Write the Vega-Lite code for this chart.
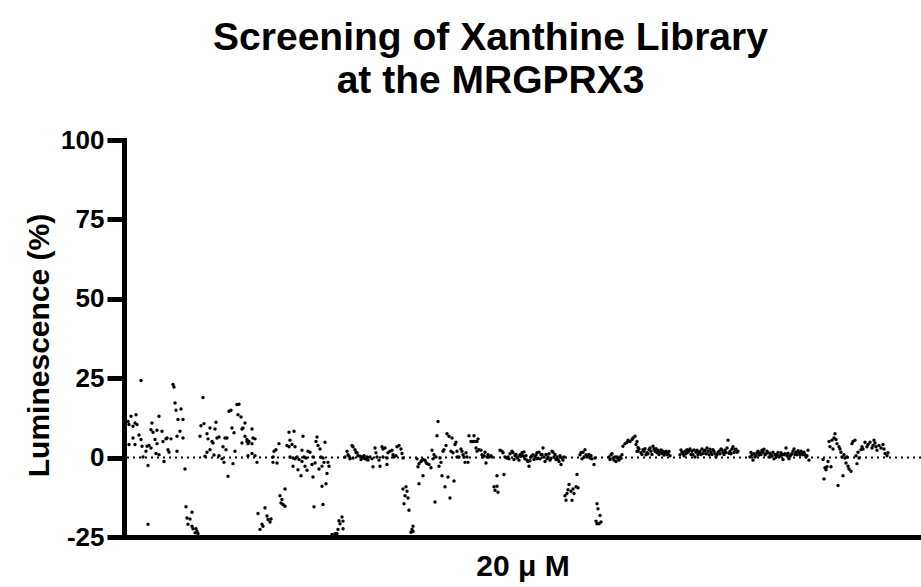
{
"$schema":"https://vega.github.io/schema/vega-lite/v6.json",
"width":797,"height":397,
"autosize":{"type":"none"},
"padding":{"left":124,"top":140,"right":0,"bottom":50},
"background":"white",
"title":{"text":["Screening of Xanthine Library","at the MRGPRX3"],"font":"Liberation Sans","fontSize":39,"fontWeight":"bold","color":"black","anchor":"middle","lineHeight":43,"offset":26,"dx":-32},
"config":{"view":{"stroke":null},"font":"Liberation Sans"},
"datasets":{"pts":[
{"c":4,"v":11.4},{"c":7,"v":13},{"c":12,"v":13.5},{"c":5,"v":10.4},{"c":9,"v":9.9},{"c":11,"v":10.9},{"c":13,"v":10.4},{"c":15,"v":7.1},{"c":9,"v":6.2},{"c":5,"v":4.1},{"c":11,"v":4.1},{"c":17,"v":5.7},{"c":18,"v":3.6},{"c":19,"v":0.2},{"c":22,"v":2},{"c":23,"v":3.6},{"c":25,"v":3.8},{"c":27,"v":3},{"c":24,"v":-2.5},{"c":17,"v":24.3},{"c":28,"v":10.9},{"c":27,"v":8.8},{"c":29,"v":8},{"c":31,"v":5.7},{"c":33,"v":8.6},{"c":35,"v":13},{"c":38,"v":8.3},{"c":33,"v":4.4},{"c":32,"v":1.3},{"c":35,"v":0.9},{"c":40,"v":-1.2},{"c":39,"v":5.1},{"c":42,"v":5.9},{"c":43,"v":6.2},{"c":44,"v":2.5},{"c":45,"v":1.7},{"c":47,"v":5.9},{"c":49,"v":23},{"c":50,"v":22.2},{"c":51,"v":17.2},{"c":52,"v":14.9},{"c":57,"v":15.3},{"c":54,"v":12},{"c":59,"v":12},{"c":56,"v":8.3},{"c":53,"v":6.7},{"c":59,"v":6.2},{"c":53,"v":2},{"c":61,"v":-3.6},{"c":24,"v":-21},{"c":62,"v":-15.5},{"c":68,"v":-17.2},{"c":63,"v":-19},{"c":66,"v":-19.3},{"c":64,"v":-21},{"c":68,"v":-21.6},{"c":69,"v":-22.4},{"c":72,"v":-22.4},{"c":73,"v":-23.2},{"c":71,"v":-23.7},{"c":74,"v":-23.9},{"c":79,"v":18.9},{"c":77,"v":10},{"c":80,"v":10.7},{"c":76,"v":6.7},{"c":83,"v":7.5},{"c":84,"v":5.9},{"c":86,"v":9.3},{"c":88,"v":5.1},{"c":89,"v":4.6},{"c":91,"v":9},{"c":92,"v":11.1},{"c":93,"v":6.2},{"c":95,"v":6.5},{"c":86,"v":2.5},{"c":83,"v":1.7},{"c":81,"v":0.4},{"c":90,"v":0.8},{"c":95,"v":0.6},{"c":98,"v":-0.4},{"c":99,"v":3.4},{"c":101,"v":6.2},{"c":103,"v":6.2},{"c":102,"v":2.5},{"c":100,"v":-1.5},{"c":104,"v":-5.9},{"c":105,"v":14.6},{"c":107,"v":14.9},{"c":108,"v":9.3},{"c":110,"v":7.8},{"c":111,"v":2},{"c":109,"v":-1.9},{"c":113,"v":16.7},{"c":115,"v":16.8},{"c":114,"v":13.5},{"c":117,"v":12.8},{"c":118,"v":9},{"c":119,"v":9.3},{"c":121,"v":10.9},{"c":121,"v":6.7},{"c":123,"v":5.1},{"c":124,"v":4.4},{"c":118,"v":4.6},
{"c":128,"v":9},{"c":123,"v":5.7},{"c":125,"v":5.1},{"c":129,"v":6.2},{"c":131,"v":5.9},{"c":128,"v":4.4},{"c":124,"v":0.6},{"c":128,"v":1.3},{"c":131,"v":0.6},{"c":133,"v":-1.5},{"c":134,"v":-17.6},{"c":141,"v":-15.8},{"c":138,"v":-21},{"c":139,"v":-21.6},{"c":136,"v":-22.6},{"c":143,"v":-18.4},{"c":144,"v":-19.5},{"c":147,"v":-19.3},{"c":146,"v":-20.3},{"c":149,"v":0.2},{"c":150,"v":2},{"c":152,"v":2.5},{"c":149,"v":-1.5},{"c":153,"v":-1.7},{"c":155,"v":4.4},{"c":156,"v":-12},{"c":158,"v":-13.2},{"c":157,"v":-14.3},{"c":159,"v":-14.8},{"c":161,"v":-15.3},{"c":161,"v":-9.9},{"c":165,"v":8},{"c":166,"v":5.5},{"c":170,"v":8.3},{"c":163,"v":3.8},{"c":165,"v":3.4},{"c":168,"v":4.1},{"c":171,"v":3.4},{"c":166,"v":0.2},{"c":169,"v":-0.1},{"c":171,"v":-0.4},{"c":173,"v":0.2},{"c":175,"v":-0.6},{"c":169,"v":-2.7},{"c":174,"v":-3.8},{"c":177,"v":-5.7},{"c":178,"v":2.3},{"c":179,"v":6.7},{"c":178,"v":-1.2},{"c":180,"v":0.2},{"c":182,"v":-0.1},{"c":181,"v":-2.7},{"c":184,"v":2},{"c":186,"v":1.7},{"c":188,"v":-2.2},{"c":183,"v":-4},{"c":189,"v":-6.1},{"c":189,"v":0.2},{"c":191,"v":-1.7},{"c":192,"v":5.1},{"c":193,"v":6.5},{"c":194,"v":3.8},{"c":196,"v":2.7},{"c":197,"v":0.2},{"c":195,"v":-3.6},{"c":198,"v":-2.7},{"c":199,"v":-0.1},{"c":201,"v":4.8},{"c":200,"v":-1.5},{"c":198,"v":-9},{"c":202,"v":-8.2},{"c":203,"v":-5},{"c":204,"v":-1.5},{"c":205,"v":-2.7},{"c":190,"v":-15.5},{"c":199,"v":-14.8},{"c":208,"v":-24.2},{"c":211,"v":-24},{"c":213,"v":-23.9},{"c":214,"v":-22.6},{"c":216,"v":-20.8},{"c":218,"v":-18.7},{"c":219,"v":-20},{"c":219,"v":-22.4},{"c":215,"v":-19.9},{"c":221,"v":0.2},{"c":223,"v":2},{"c":224,"v":0.9},{"c":226,"v":-0.4},{"c":228,"v":3.8},{"c":229,"v":3.4},{"c":231,"v":2.5},{"c":232,"v":1.7},{"c":233,"v":1.5},{"c":234,"v":0.6},{"c":236,"v":0.4},{"c":238,"v":0.2},{"c":239,"v":-0.1},{"c":241,"v":-0.4},{"c":243,"v":-0.6},{"c":244,"v":-0.8},{"c":246,"v":0.2},{"c":249,"v":-2.9},{"c":251,"v":3},{"c":252,"v":1.5},{"c":253,"v":0.2},{"c":255,"v":-0.8},{"c":225,"v":0.4},{"c":229,"v":-0.1},{"c":237,"v":-0.6},{"c":240,"v":0.6},{"c":243,"v":0.2},{"c":248,"v":-0.4},
{"c":256,"v":-2.7},{"c":258,"v":3.4},{"c":259,"v":2.7},{"c":261,"v":3},{"c":263,"v":-0.1},{"c":263,"v":-2.2},{"c":264,"v":1.5},{"c":266,"v":2},{"c":268,"v":2.3},{"c":269,"v":0.9},{"c":270,"v":0.2},{"c":272,"v":0.6},{"c":273,"v":3.4},{"c":275,"v":3.8},{"c":277,"v":2.7},{"c":278,"v":1.3},{"c":279,"v":-0.1},{"c":259,"v":0.2},{"c":279,"v":-9.9},{"c":282,"v":-9.2},{"c":283,"v":-10.6},{"c":281,"v":-12},{"c":284,"v":-12.7},{"c":280,"v":-14.5},{"c":285,"v":-16.6},{"c":288,"v":-22.6},{"c":289,"v":-21.6},{"c":287,"v":-23.5},{"c":289,"v":-23.3},{"c":293,"v":-0.4},{"c":294,"v":-2.9},{"c":295,"v":-1.9},{"c":297,"v":-1.2},{"c":298,"v":-0.8},{"c":299,"v":-0.6},{"c":301,"v":-0.8},{"c":302,"v":-1.5},{"c":303,"v":-1.9},{"c":305,"v":-2.2},{"c":307,"v":-3.2},{"c":295,"v":-8.2},{"c":299,"v":-5.7},{"c":308,"v":2.3},{"c":309,"v":-0.4},{"c":310,"v":0.9},{"c":311,"v":-14},{"c":312,"v":0.2},{"c":313,"v":6.9},{"c":314,"v":11.4},{"c":315,"v":-2.7},{"c":316,"v":-0.1},{"c":317,"v":-1.5},{"c":318,"v":-5.7},{"c":319,"v":2},{"c":320,"v":2.5},{"c":321,"v":-9.2},{"c":322,"v":3.8},{"c":323,"v":7.5},{"c":324,"v":-6.1},{"c":325,"v":6.7},{"c":326,"v":-12.7},{"c":328,"v":6.2},{"c":327,"v":2},{"c":329,"v":1.5},{"c":330,"v":-7.4},{"c":331,"v":4.1},{"c":332,"v":4.8},{"c":333,"v":0.2},{"c":333,"v":2},{"c":335,"v":0.2},{"c":337,"v":2.7},{"c":338,"v":2},{"c":339,"v":0.9},{"c":340,"v":0.2},{"c":341,"v":-1.5},{"c":342,"v":1.5},{"c":343,"v":0.2},{"c":344,"v":-1.5},{"c":345,"v":6.9},{"c":347,"v":5.1},{"c":348,"v":5.1},{"c":349,"v":5.1},{"c":350,"v":6.9},{"c":351,"v":5.1},{"c":353,"v":5.1},{"c":352,"v":3},{"c":353,"v":2},{"c":354,"v":5.9},{"c":355,"v":2.5},{"c":357,"v":2.3},{"c":358,"v":0.9},{"c":359,"v":0.2},{"c":360,"v":0.6},{"c":361,"v":1.7},{"c":362,"v":-1.7},{"c":363,"v":0.2},{"c":364,"v":0.9},{"c":365,"v":0.2},{"c":367,"v":0.6},{"c":368,"v":0.2},{"c":370,"v":-9.2},{"c":371,"v":-10.3},{"c":373,"v":-9},{"c":373,"v":-5.7},{"c":374,"v":-10.9},{"c":376,"v":2.3},{"c":378,"v":2},{"c":379,"v":1.5},{"c":380,"v":-5.3},{"c":381,"v":0.2},{"c":383,"v":-0.1},{"c":384,"v":0.2},
{"c":385,"v":-0.4},{"c":388,"v":2},{"c":389,"v":1.5},{"c":391,"v":0.6},{"c":393,"v":-0.1},{"c":394,"v":0.2},{"c":396,"v":0.9},{"c":398,"v":1.5},{"c":399,"v":0.6},{"c":401,"v":-0.4},{"c":403,"v":-0.8},{"c":404,"v":-1.2},{"c":405,"v":-2.7},{"c":407,"v":0.2},{"c":408,"v":0.6},{"c":409,"v":0.9},{"c":411,"v":0.2},{"c":413,"v":-0.4},{"c":413,"v":1.5},{"c":415,"v":1.7},{"c":417,"v":0.9},{"c":419,"v":3},{"c":420,"v":0.2},{"c":421,"v":-1.2},{"c":423,"v":-0.4},{"c":424,"v":0.2},{"c":426,"v":-0.8},{"c":428,"v":2},{"c":429,"v":1.7},{"c":430,"v":0.2},{"c":432,"v":-0.6},{"c":433,"v":0.2},{"c":435,"v":-1.2},{"c":437,"v":-2.2},{"c":438,"v":-0.1},{"c":440,"v":0.2},{"c":441,"v":-12},{"c":442,"v":-13.4},{"c":443,"v":-11.3},{"c":444,"v":-10.1},{"c":445,"v":-8.5},{"c":447,"v":-10.6},{"c":449,"v":-9.9},{"c":450,"v":-11.3},{"c":452,"v":-9.2},{"c":454,"v":-9.5},{"c":448,"v":-13.4},{"c":453,"v":-5.3},{"c":456,"v":0.9},{"c":459,"v":1.7},{"c":460,"v":0.2},{"c":461,"v":2.5},{"c":462,"v":0.9},{"c":463,"v":0.2},{"c":464,"v":0.6},{"c":466,"v":-0.1},{"c":468,"v":-0.4},{"c":470,"v":-2.2},{"c":471,"v":-0.1},{"c":473,"v":-14.5},{"c":474,"v":-16.1},{"c":476,"v":-18.2},{"c":472,"v":-20},{"c":473,"v":-20.8},{"c":475,"v":-20.8},{"c":477,"v":-20.3},{"c":485,"v":0.2},{"c":487,"v":0.9},{"c":489,"v":-0.1},{"c":490,"v":-0.8},{"c":491,"v":0.2},{"c":492,"v":-1.2},{"c":493,"v":0.2},{"c":494,"v":-0.4},{"c":496,"v":0.2},{"c":498,"v":0.9},{"c":499,"v":3.6},{"c":501,"v":4.4},{"c":503,"v":4.8},{"c":504,"v":5.5},{"c":506,"v":5.1},{"c":508,"v":5.7},{"c":509,"v":6.2},{"c":511,"v":6.7},{"c":513,"v":5.1},{"c":514,"v":2},
{"c":386,"v":1.2},{"c":390,"v":-0.6},{"c":392,"v":1.0},{"c":395,"v":-0.8},{"c":397,"v":0.4},{"c":400,"v":1.8},{"c":402,"v":0.6},{"c":406,"v":-1.0},{"c":410,"v":-0.6},{"c":412,"v":0.8},{"c":414,"v":-0.2},{"c":416,"v":-0.4},{"c":418,"v":1.0},{"c":422,"v":1.0},{"c":425,"v":1.2},{"c":427,"v":-0.2},{"c":431,"v":1.0},{"c":434,"v":-0.6},{"c":436,"v":0.6},{"c":439,"v":-0.8},{"c":457,"v":1.6},{"c":458,"v":-0.4},{"c":465,"v":1.0},{"c":467,"v":0.6},{"c":486,"v":-0.6},{"c":488,"v":1.2},{"c":495,"v":-0.8},{"c":497,"v":-0.2},
{"c":512,"v":4.1},{"c":513,"v":2},{"c":515,"v":2.7},{"c":517,"v":1.5},{"c":519,"v":2.5},{"c":520,"v":2},{"c":522,"v":0.9},{"c":523,"v":1.5},{"c":525,"v":2.5},{"c":527,"v":2},{"c":529,"v":3.6},{"c":530,"v":2.7},{"c":531,"v":2},{"c":533,"v":1.5},{"c":534,"v":2.3},{"c":536,"v":1.7},{"c":538,"v":1.3},{"c":539,"v":2},{"c":541,"v":1.5},{"c":543,"v":0.9},{"c":544,"v":1.3},{"c":546,"v":0.6},{"c":556,"v":0.9},{"c":558,"v":1.7},{"c":559,"v":1.3},{"c":561,"v":2},{"c":563,"v":2.5},{"c":564,"v":1.7},{"c":566,"v":2.7},{"c":568,"v":2},{"c":569,"v":0.9},{"c":571,"v":0.2},{"c":572,"v":1.7},{"c":573,"v":2.3},{"c":574,"v":0.9},{"c":576,"v":2},{"c":578,"v":2.7},{"c":579,"v":1.3},{"c":581,"v":2.3},{"c":583,"v":3},{"c":584,"v":2},{"c":585,"v":0.9},{"c":587,"v":1.7},{"c":589,"v":2.5},{"c":590,"v":2},{"c":592,"v":0.2},{"c":593,"v":0.9},{"c":595,"v":2},{"c":597,"v":2.7},{"c":599,"v":1.7},{"c":601,"v":2.3},{"c":603,"v":3},{"c":604,"v":5.5},{"c":606,"v":2},{"c":608,"v":2.7},{"c":609,"v":3.4},{"c":611,"v":2.5},{"c":613,"v":1.7},{"c":614,"v":2},{"c":626,"v":0.2},{"c":628,"v":0.9},{"c":629,"v":-0.8},{"c":631,"v":0.2},{"c":633,"v":1.5},{"c":634,"v":2},{"c":636,"v":1.5},{"c":638,"v":2.3},{"c":639,"v":1.7},{"c":641,"v":0.9},{"c":643,"v":2},{"c":644,"v":1.5},
{"c":514,"v":3.2},{"c":518,"v":1.0},{"c":521,"v":2.8},{"c":524,"v":1.2},{"c":526,"v":3.0},{"c":528,"v":1.0},{"c":532,"v":2.8},{"c":535,"v":1.0},{"c":537,"v":2.4},{"c":540,"v":0.8},{"c":542,"v":2.0},{"c":545,"v":1.9},{"c":557,"v":2.4},{"c":560,"v":0.6},{"c":562,"v":1.2},{"c":565,"v":2.2},{"c":567,"v":1.0},{"c":570,"v":2.4},{"c":575,"v":1.6},{"c":577,"v":1.0},{"c":580,"v":2.0},{"c":582,"v":1.2},{"c":586,"v":2.6},{"c":588,"v":1.0},{"c":591,"v":1.2},{"c":594,"v":1.6},{"c":596,"v":1.2},{"c":598,"v":2.4},{"c":600,"v":1.0},{"c":602,"v":1.6},{"c":605,"v":1.4},{"c":607,"v":1.2},{"c":610,"v":1.6},{"c":612,"v":2.6},{"c":627,"v":1.6},{"c":630,"v":1.2},{"c":632,"v":0.6},{"c":635,"v":0.8},{"c":637,"v":1.0},{"c":640,"v":2.6},{"c":642,"v":1.2},
{"c":645,"v":0.2},{"c":647,"v":0.9},{"c":649,"v":1.7},{"c":650,"v":-0.4},{"c":652,"v":0.2},{"c":653,"v":0.9},{"c":655,"v":0.2},{"c":657,"v":1.5},{"c":659,"v":-0.6},{"c":660,"v":0.9},{"c":662,"v":3},{"c":663,"v":0.6},{"c":665,"v":-0.4},{"c":667,"v":0.9},{"c":669,"v":2},{"c":670,"v":2.7},{"c":672,"v":1.7},{"c":673,"v":0.9},{"c":675,"v":1.5},{"c":677,"v":2},{"c":679,"v":0.9},{"c":680,"v":1.7},{"c":682,"v":0.2},{"c":683,"v":0.6},{"c":684,"v":2.3},{"c":685,"v":-0.8},{"c":699,"v":-0.6},{"c":700,"v":-6.7},{"c":701,"v":-3.2},{"c":702,"v":-3.8},{"c":703,"v":-2.9},{"c":704,"v":-1.2},{"c":705,"v":5.1},{"c":706,"v":3.4},{"c":707,"v":-2.9},{"c":708,"v":5.5},{"c":709,"v":2.7},{"c":710,"v":6.2},{"c":711,"v":7.5},{"c":712,"v":5.7},{"c":713,"v":4.4},{"c":714,"v":-8.8},{"c":715,"v":3.4},{"c":716,"v":2.7},{"c":717,"v":1.7},{"c":718,"v":0.2},{"c":719,"v":-5.7},{"c":720,"v":0.9},{"c":721,"v":-0.1},{"c":722,"v":-1.7},{"c":723,"v":0.2},{"c":724,"v":-2.7},{"c":725,"v":-3.6},{"c":727,"v":-4.3},{"c":728,"v":4.4},{"c":729,"v":5.1},{"c":731,"v":5.5},{"c":732,"v":0.6},{"c":733,"v":-1.9},{"c":734,"v":1.7},{"c":735,"v":-0.1},{"c":737,"v":2.5},{"c":738,"v":3.4},{"c":739,"v":2.7},{"c":741,"v":4.8},{"c":743,"v":3.4},{"c":744,"v":4.1},{"c":746,"v":4.8},{"c":748,"v":3},{"c":749,"v":3.8},{"c":750,"v":5.5},{"c":751,"v":4.6},{"c":752,"v":3.4},{"c":753,"v":2.3},{"c":755,"v":3.8},{"c":757,"v":3},{"c":759,"v":4.1},{"c":760,"v":2.7},{"c":761,"v":1.3},{"c":763,"v":0.6},{"c":764,"v":1.5},
{"c":646,"v":1.4},{"c":648,"v":0.4},{"c":651,"v":1.0},{"c":654,"v":1.6},{"c":656,"v":0.6},{"c":658,"v":1.0},{"c":661,"v":1.2},{"c":664,"v":1.4},{"c":666,"v":0.4},{"c":668,"v":1.2},{"c":671,"v":1.0},{"c":674,"v":2.2},{"c":676,"v":0.8},{"c":678,"v":1.6},{"c":681,"v":1.0}
]},
"encoding":{"y":{"field":"v","type":"quantitative","scale":{"domain":[-25,100],"nice":false,"zero":false},
 "axis":{"values":[-25,0,25,50,75,100],"labelExpr":"'' + datum.value","grid":false,"title":"Luminescence (%)","domainWidth":5,"domainColor":"black","domainCap":"square","tickWidth":5,"tickColor":"black","tickSize":17,"labelFontSize":26,"labelFontWeight":"bold","labelColor":"black","labelPadding":3,"labelFont":"Liberation Sans","titleFont":"Liberation Sans","titleFontSize":30,"titleFontWeight":"bold","titleColor":"black","titlePadding":6,"titleY":205}}},
"layer":[
{"data":{"values":[{"v":0}]},"mark":{"type":"rule","strokeDash":[2,4],"strokeWidth":2,"color":"black"}},
{"data":{"name":"pts"},"mark":{"type":"circle","size":12,"color":"black","opacity":1},
 "encoding":{"x":{"field":"c","type":"quantitative","scale":{"domain":[0,797],"nice":false,"zero":false},
  "axis":{"ticks":false,"labels":false,"grid":false,"title":"20 μ M","domainWidth":5,"domainColor":"black","domainCap":"square","titleFont":"Liberation Sans","titleFontSize":30,"titleFontWeight":"bold","titleColor":"black","titlePadding":14}}}}
]
}
